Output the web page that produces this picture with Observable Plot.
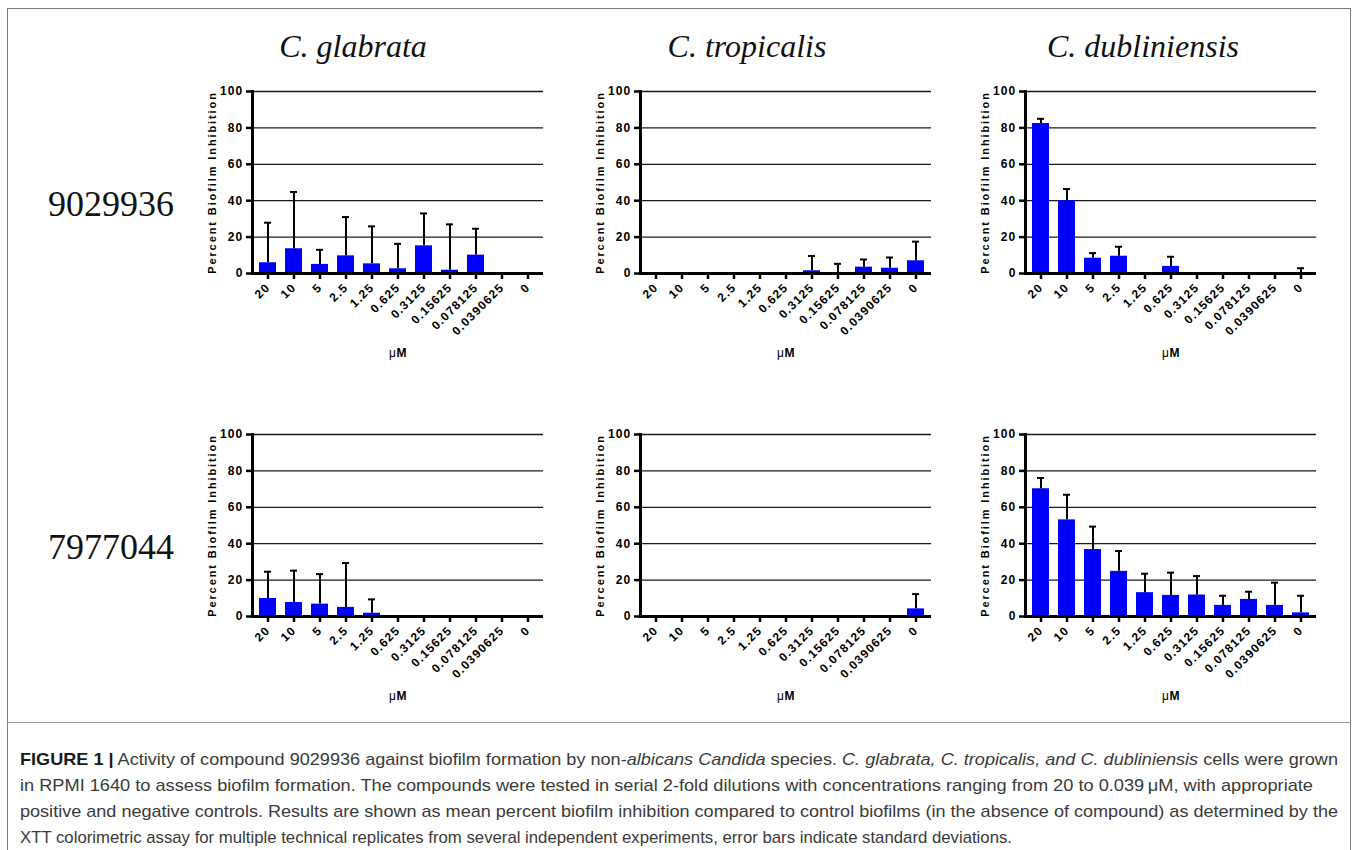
<!DOCTYPE html>
<html>
<head>
<meta charset="utf-8">
<script src="https://cdn.jsdelivr.net/npm/d3@7"></script>
<script src="https://cdn.jsdelivr.net/npm/@observablehq/plot@0.6"></script>
<style>
  html, body { margin: 0; padding: 0; background: #fff; }
  #fig { position: relative; width: 1358px; height: 850px; background: #fff; overflow: hidden; }
  .frame { position: absolute; left: 7px; top: 8px; width: 1344px; height: 860px; border: 1.5px solid #7a7a7a; box-sizing: border-box; }
  .sep { position: absolute; left: 7px; top: 722px; width: 1344px; height: 0; border-top: 1px solid #9a9a9a; }
  .title { position: absolute; font-family: "Liberation Serif", "Times New Roman", serif; font-style: italic; font-size: 32px; color: #111; white-space: nowrap; transform: translateX(-50%); line-height: 1; }
  .row { position: absolute; font-family: "Liberation Serif", "Times New Roman", serif; font-size: 36px; color: #111; white-space: nowrap; line-height: 1; }
  .panel { position: absolute; }
  .cap { position: absolute; left: 20px; font-family: "Liberation Sans Narrow", "Arial Narrow", "Liberation Sans", Arial, sans-serif; font-size: 17px; line-height: 20px; color: #3a3a3a; white-space: nowrap; transform-origin: 0 50%; }
  .cap b { color: #1a1a1a; }
</style>
</head>
<body>
<div id="fig">
  <div class="frame"></div>
  <div class="sep"></div>
</div>
<script>
// ---------- data ----------
const concentrations = ["20", "10", "5", "2.5", "1.25", "0.625", "0.3125", "0.15625", "0.078125", "0.0390625", "0"];
const speciesNames = ["C. glabrata", "C. tropicalis", "C. dubliniensis"];
const compoundNames = ["9029936", "7977044"];
const yTicks = [0, 20, 40, 60, 80, 100];
const yLabel = "Percent Biofilm Inhibition";
const xLabelMu = "μ";
const xLabelM = "M";

// compound 9029936
const glabrata9029936Mean = [5.9, 13.6, 5.0, 9.7, 5.3, 2.6, 15.2, 1.8, 10.1, 0, 0];
const glabrata9029936SD   = [22.0, 31.2, 8.0, 21.3, 20.6, 13.7, 17.8, 25.2, 14.5, 0, 0];
const tropicalis9029936Mean = [0, 0, 0, 0, 0, 0, 1.5, 0, 3.5, 2.9, 7.0];
const tropicalis9029936SD   = [0, 0, 0, 0, 0, 0, 8.1, 5.3, 4.2, 5.9, 10.5];
const dubliniensis9029936Mean = [82.4, 40.0, 8.4, 9.5, 0, 3.9, 0, 0, 0, 0, 0.3];
const dubliniensis9029936SD   = [2.6, 6.4, 2.8, 5.2, 0, 5.3, 0, 0, 0, 0, 2.6];

// compound 7977044
const glabrata7977044Mean = [9.9, 7.7, 6.8, 5.0, 1.8, 0, 0, 0, 0, 0, 0];
const glabrata7977044SD   = [14.7, 17.5, 16.5, 24.4, 7.6, 0, 0, 0, 0, 0, 0];
const tropicalis7977044Mean = [0, 0, 0, 0, 0, 0, 0, 0, 0, 0, 4.2];
const tropicalis7977044SD   = [0, 0, 0, 0, 0, 0, 0, 0, 0, 0, 8.1];
const dubliniensis7977044Mean = [70.2, 53.1, 36.8, 24.8, 13.1, 11.6, 11.8, 6.1, 9.4, 6.1, 2.0];
const dubliniensis7977044SD   = [5.9, 13.8, 12.6, 11.2, 10.4, 12.5, 10.4, 5.3, 4.2, 12.5, 9.4];

const captionLines = [
  '<b>FIGURE 1 |</b> Activity of compound 9029936 against biofilm formation by non-<i>albicans Candida</i> species. <i>C. glabrata, C. tropicalis, and C. dubliniensis</i> cells were grown',
  'in RPMI 1640 to assess biofilm formation. The compounds were tested in serial 2-fold dilutions with concentrations ranging from 20 to 0.039\u2009μM, with appropriate',
  'positive and negative controls. Results are shown as mean percent biofilm inhibition compared to control biofilms (in the absence of compound) as determined by the',
  'XTT colorimetric assay for multiple technical replicates from several independent experiments, error bars indicate standard deviations.'
];

// ---------- layout ----------
const fig = document.getElementById("fig");
const colLeft = [192, 580, 965];
const rowTop = [81, 424];
const titleX = [353, 747, 1143];
const rowLabelBaseline = [215, 558];

speciesNames.forEach((s, i) => {
  const d = document.createElement("div");
  d.className = "title";
  d.textContent = s;
  d.style.left = titleX[i] + "px";
  d.style.top = "30px";
  fig.appendChild(d);
});
compoundNames.forEach((c, i) => {
  const d = document.createElement("div");
  d.className = "row";
  d.textContent = c;
  d.style.left = "48px";
  d.style.top = (rowLabelBaseline[i] - 29) + "px";
  fig.appendChild(d);
});

function panel(means, sds) {
  const data = concentrations.map((c, i) => ({conc: c, mean: means[i], sd: sds[i]}));
  const err = data.filter(d => d.sd > 0);
  return Plot.plot({
    width: 359, height: 285,
    marginLeft: 60, marginRight: 8, marginTop: 10, marginBottom: 93,
    x: {domain: concentrations, paddingInner: 0.346, paddingOuter: 0.26, label: null},
    y: {domain: [0, 100], label: null},
    style: {fontFamily: "'Liberation Sans', Arial, sans-serif", fontSize: "12px", fontWeight: "bold", letterSpacing: "1.2px", color: "#000", background: "transparent", overflow: "visible"},
    marks: [
      Plot.ruleY(yTicks.filter(t => t > 0), {stroke: "#1a1a1a", strokeWidth: 1.3}),
      Plot.barY(data, {x: "conc", y: "mean", fill: "#0000ff"}),
      Plot.ruleX(err, {x: "conc", y1: "mean", y2: d => d.mean + d.sd, stroke: "#000", strokeWidth: 2}),
      Plot.tickY(err, {x: "conc", y: d => d.mean + d.sd, stroke: "#000", strokeWidth: 2, insetLeft: 5, insetRight: 5}),
      Plot.axisY({ticks: yTicks, tickSize: 6, tickPadding: 3, strokeWidth: 2.5, label: null}),
      Plot.axisX({tickRotate: -45, tickSize: 6, tickPadding: 6, strokeWidth: 2.5, label: null}),
      Plot.ruleY([0], {stroke: "#000", strokeWidth: 3}),
      Plot.frame({anchor: "left", stroke: "#000", strokeWidth: 3}),
      Plot.text([yLabel], {text: d => d, frameAnchor: "left", textAnchor: "middle", dx: -40, rotate: -90, fontSize: 11, fontWeight: "bold"}),
      Plot.text([xLabelMu], {text: d => d, frameAnchor: "bottom", dy: 83, dx: -5, fontWeight: "normal", fontSize: 12}),
      Plot.text([xLabelM], {text: d => d, frameAnchor: "bottom", dy: 83, dx: 4, fontWeight: "bold", fontSize: 12})
    ]
  });
}

const panels = [
  [glabrata9029936Mean, glabrata9029936SD, 0, 0],
  [tropicalis9029936Mean, tropicalis9029936SD, 1, 0],
  [dubliniensis9029936Mean, dubliniensis9029936SD, 2, 0],
  [glabrata7977044Mean, glabrata7977044SD, 0, 1],
  [tropicalis7977044Mean, tropicalis7977044SD, 1, 1],
  [dubliniensis7977044Mean, dubliniensis7977044SD, 2, 1]
];
panels.forEach(([m, s, c, r]) => {
  const wrap = document.createElement("div");
  wrap.className = "panel";
  wrap.style.left = colLeft[c] + "px";
  wrap.style.top = rowTop[r] + "px";
  wrap.appendChild(panel(m, s));
  fig.appendChild(wrap);
});
// letter spacing for the rotated axis title
document.querySelectorAll(".panel svg text").forEach(t => {
  if (t.textContent === yLabel) t.setAttribute("letter-spacing", "1.9");
});

// caption
const capTop = [750, 776, 802, 828];
const capWidth = [1318, 1293, 1318, 992];
const capEls = captionLines.map((html, i) => {
  const d = document.createElement("div");
  d.className = "cap";
  d.innerHTML = html;
  d.style.top = capTop[i] + "px";
  fig.appendChild(d);
  return d;
});
function fitCaption() {
  capEls.forEach((d, i) => {
    d.style.transform = "none";
    const w = d.getBoundingClientRect().width;
    if (w > 0) d.style.transform = `scaleX(${capWidth[i] / w})`;
  });
}
fitCaption();
if (document.fonts && document.fonts.ready) document.fonts.ready.then(fitCaption);
</script>
</body>
</html>
